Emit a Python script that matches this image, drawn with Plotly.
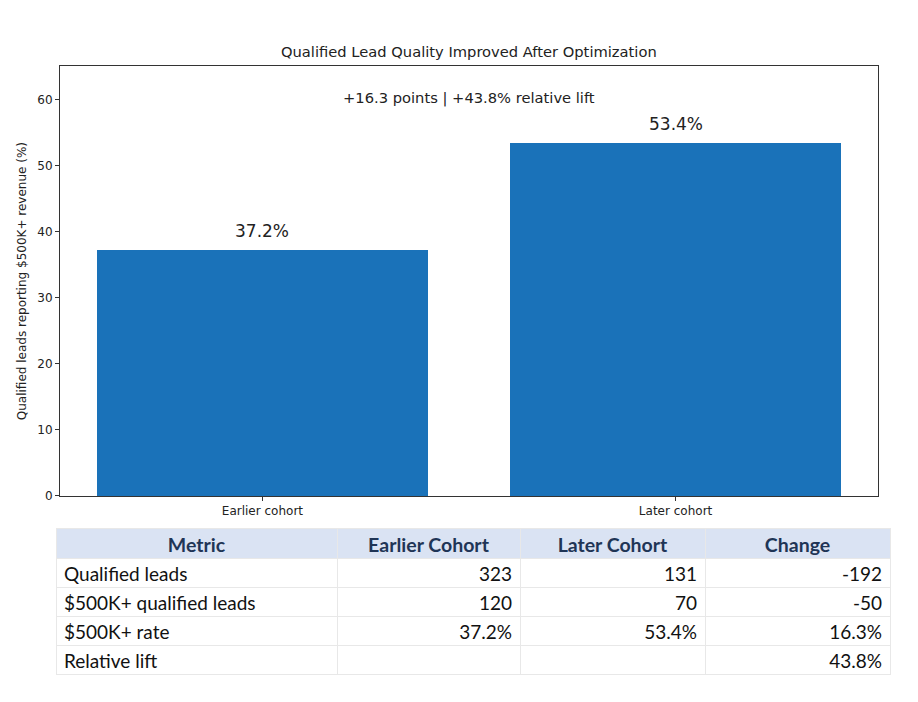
import plotly.graph_objects as go

W, H = 918, 702

cohorts = ["Earlier cohort", "Later cohort"]
rates = [37.2, 53.4]
rate_labels = ["37.2%", "53.4%"]
title = "Qualified Lead Quality Improved After Optimization"
subtitle = "+16.3 points | +43.8% relative lift"
y_title = "Qualified leads reporting $500K+ revenue (%)"
y_ticks = [0, 10, 20, 30, 40, 50, 60]

table_header = ["Metric", "Earlier Cohort", "Later Cohort", "Change"]
metric_col = ["Qualified leads", "$500K+ qualified leads", "$500K+ rate", "Relative lift"]
earlier_col = ["323", "120", "37.2%", ""]
later_col = ["131", "70", "53.4%", ""]
change_col = ["-192", "-50", "16.3%", "43.8%"]

def px_x(p):
    return p / W

def px_y(p):
    # small empirical vertical correction
    q = (p + 1.4) / 0.991
    return 1 - q / H

fig = go.Figure()

fig.add_trace(go.Bar(
    x=[0, 1], y=rates, width=0.8,
    marker=dict(color="#1a72b9", line=dict(width=0)),
    xaxis="x", yaxis="y", showlegend=False, hoverinfo="skip",
))

fig.add_trace(go.Table(
    domain=dict(x=[px_x(56), px_x(890)], y=[px_y(692), px_y(528)]),
    columnwidth=[281, 183, 185, 185],
    header=dict(
        values=table_header,
        align="center", height=30,
        fill_color="#dae3f3",
        line=dict(color="#e8e8e8", width=1),
        font=dict(family="Lato", size=19.5, color="#1f3556", weight="bold"),
    ),
    cells=dict(
        values=[metric_col, earlier_col, later_col, change_col],
        align=["left", "right", "right", "right"],
        height=29,
        fill_color="white",
        line=dict(color="#e8e8e8", width=1),
        font=dict(family="Lato", size=19, color="#111111"),
    ),
))

annotations = [
    dict(text=title, xref="paper", yref="paper", x=px_x(469), y=px_y(50),
         xanchor="center", yanchor="middle", showarrow=False,
         font=dict(family="DejaVu Sans", size=14.7, color="#222")),
    dict(text=subtitle, xref="paper", yref="paper", x=px_x(469), y=px_y(97),
         xanchor="center", yanchor="middle", showarrow=False,
         font=dict(family="DejaVu Sans", size=14.7, color="#222")),
]
for i, (v, lab) in enumerate(zip(rates, rate_labels)):
    annotations.append(dict(text=lab, x=i, y=v, xref="x", yref="y",
                            xanchor="center", yanchor="bottom", yshift=7,
                            showarrow=False,
                            font=dict(family="DejaVu Sans", size=17, color="#222")))

fig.update_layout(
    width=W, height=H,
    margin=dict(l=0, r=0, t=0, b=0),
    paper_bgcolor="white", plot_bgcolor="white",
    bargap=0,
    xaxis=dict(
        domain=[px_x(60), px_x(878)],
        range=[-0.49, 1.49],
        tickvals=[0, 1], ticktext=cohorts,
        ticks="outside", ticklen=4, tickcolor="#333",
        tickfont=dict(family="DejaVu Sans", size=12, color="#222"),
        showline=True, linecolor="#333", linewidth=1, mirror=True,
        showgrid=False, zeroline=False, fixedrange=True,
    ),
    yaxis=dict(
        domain=[px_y(495), px_y(65)],
        range=[0, 65],
        tickvals=y_ticks,
        ticks="outside", ticklen=4, tickcolor="#333",
        tickfont=dict(family="DejaVu Sans", size=12, color="#222"),
        title=dict(text=y_title, font=dict(family="DejaVu Sans", size=12, color="#222"), standoff=8),
        showline=True, linecolor="#333", linewidth=1, mirror=True,
        showgrid=False, zeroline=False, fixedrange=True,
    ),
    annotations=annotations,
)

fig.write_html("out.html", config={"displayModeBar": False},
               post_script="document.body.style.margin='0';document.body.style.overflow='hidden';")
